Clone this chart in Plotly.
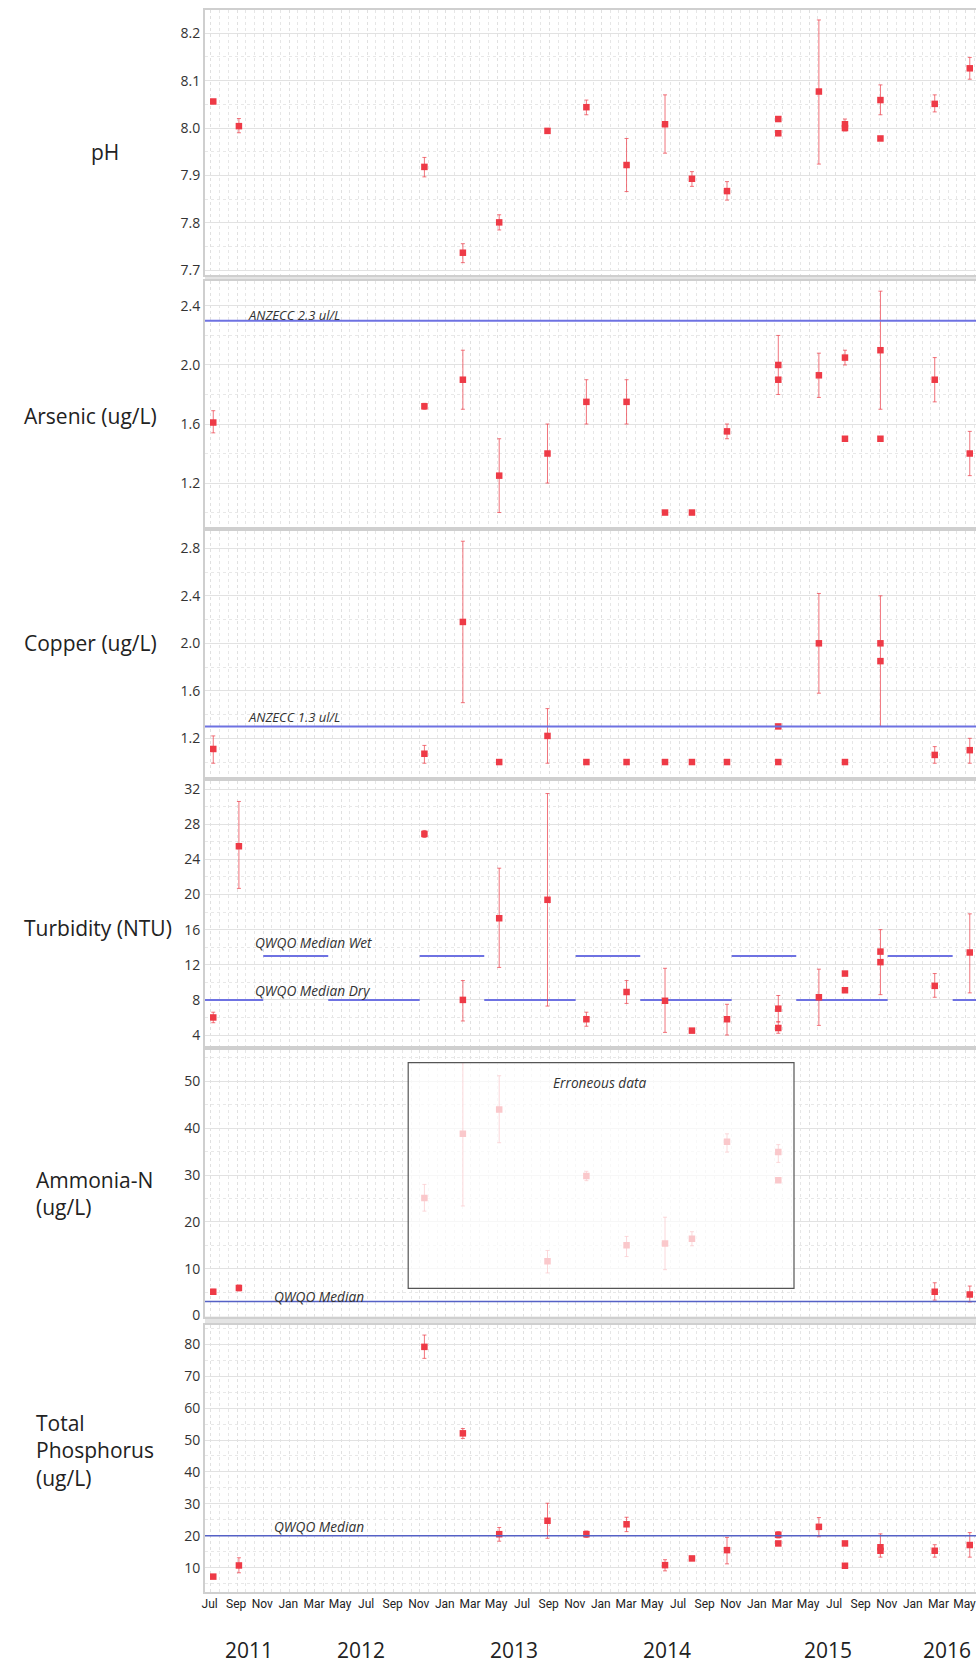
import plotly.graph_objects as go
from datetime import datetime

N = None

# ---------------- data ----------------
dates = ["2011-07-07", "2011-09-05", "2012-11-12", "2013-02-10", "2013-05-06",
         "2013-08-27", "2013-11-26", "2014-02-28", "2014-05-29", "2014-07-31",
         "2014-10-21", "2015-02-18", "2015-05-24", "2015-07-24", "2015-10-15",
         "2016-02-19", "2016-05-11"]

ph_val = [8.056, 8.004, 7.918, 7.737, 7.801, 7.994, 8.044, 7.922, 8.008, 7.893, 7.867, 8.019, 8.077, 8.008, 8.059, 8.051, 8.126]
ph_hi = [8.060, 8.020, 7.938, 7.756, 7.817, 7.998, 8.059, 7.978, 8.070, 7.908, 7.887, 8.024, 8.228, 8.019, 8.091, 8.070, 8.149]
ph_lo = [8.052, 7.990, 7.897, 7.716, 7.785, 7.990, 8.028, 7.866, 7.947, 7.877, 7.848, 8.014, 7.924, 7.997, 8.028, 8.034, 8.103]
ph_val2 = [N] * 11 + [7.989, N, 8.000, 7.978, N, N]
ph_hi2 = [N] * 11 + [7.994, N, 8.004, 7.982, N, N]
ph_lo2 = [N] * 11 + [7.984, N, 7.994, 7.974, N, N]

as_val = [1.61, N, 1.72, 1.90, 1.25, 1.40, 1.75, 1.75, 1.00, 1.00, 1.55, 2.00, 1.93, 2.05, 2.10, 1.90, 1.40]
as_hi = [1.69, N, 1.74, 2.10, 1.50, 1.60, 1.90, 1.90, 1.00, 1.00, 1.60, 2.20, 2.08, 2.10, 2.50, 2.05, 1.55]
as_lo = [1.54, N, 1.70, 1.70, 1.00, 1.20, 1.60, 1.60, 1.00, 1.00, 1.50, 1.80, 1.78, 2.00, 1.70, 1.75, 1.25]
as_val2 = [N] * 11 + [1.90, N, 1.50, 1.50, N, N]

cu_val = [1.11, N, 1.07, 2.18, 1.00, 1.22, 1.00, 1.00, 1.00, 1.00, 1.00, 1.00, 2.00, 1.00, 2.00, 1.06, 1.10]
cu_hi = [1.22, N, 1.14, 2.86, 1.00, 1.45, 1.00, 1.00, 1.00, 1.00, 1.00, 1.00, 2.42, 1.00, 2.40, 1.13, 1.20]
cu_lo = [0.99, N, 0.99, 1.50, 1.00, 0.99, 1.00, 1.00, 1.00, 1.00, 1.00, 1.00, 1.58, 1.00, 1.30, 0.99, 0.99]
cu_val2 = [N] * 11 + [1.30, N, N, 1.85, N, N]

tu_val = [6.0, 25.5, 26.9, 8.0, 17.3, 19.4, 5.8, 8.9, 7.9, 4.5, 5.8, 7.0, 8.3, 11.0, 13.5, 9.6, 13.4]
tu_hi = [6.6, 30.6, 27.3, 10.2, 23.0, 31.5, 6.6, 10.2, 11.6, 4.7, 7.5, 8.5, 11.5, 11.2, 16.0, 11.0, 17.8]
tu_lo = [5.4, 20.7, 26.5, 5.6, 11.7, 7.3, 5.0, 7.6, 4.3, 4.3, 4.0, 5.5, 5.1, 10.8, 8.6, 8.3, 8.8]
tu_val2 = [N] * 11 + [4.8, N, 9.1, 12.3, N, N]
tu_hi2 = [N] * 11 + [5.5, N, 9.3, 12.5, N, N]
tu_lo2 = [N] * 11 + [4.2, N, 8.9, 12.1, N, N]

nh_val = [5.1, 5.9, 25.1, 38.8, 44.0, 11.6, 29.8, 15.0, 15.4, 16.4, 37.1, 34.9, N, N, N, 5.1, 4.5]
nh_hi = [5.6, 6.5, 28.0, 54.0, 51.2, 13.9, 30.8, 16.9, 21.0, 17.9, 38.8, 36.5, N, N, N, 7.0, 6.3]
nh_lo = [4.6, 5.3, 22.3, 23.4, 36.9, 9.1, 28.8, 12.6, 9.8, 14.9, 34.9, 32.7, N, N, N, 3.3, 2.9]
nh_val2 = [N] * 11 + [28.9, N, N, N, N, N]

tp_val = [7.2, 10.7, 79.2, 52.1, 20.5, 24.7, 20.5, 23.6, 10.8, 12.9, 15.5, 20.3, 22.8, 17.6, 16.4, 15.3, 17.1]
tp_hi = [7.7, 13.1, 82.9, 53.6, 22.6, 30.2, 21.5, 25.8, 12.5, 13.5, 19.5, 21.3, 25.7, 18.2, 20.6, 17.2, 21.0]
tp_lo = [6.7, 8.4, 75.6, 50.5, 18.3, 19.2, 19.5, 21.3, 9.0, 12.3, 11.2, 19.3, 19.7, 17.0, 13.3, 13.3, 13.3]
tp_val2 = [N] * 11 + [17.6, N, 10.6, 15.3, N, N]

anzecc_as = 2.3
anzecc_cu = 1.3
qwqo_wet = 13
qwqo_dry = 8
qwqo_nh = 3
qwqo_tp = 20

wet_seasons = [("2011-11-01", "2012-04-01"), ("2012-11-01", "2013-04-01"), ("2013-11-01", "2014-04-01"),
               ("2014-11-01", "2015-04-01"), ("2015-11-01", "2016-04-01")]
dry_seasons = [("2011-04-01", "2011-11-01"), ("2012-04-01", "2012-11-01"), ("2013-04-01", "2013-11-01"),
               ("2014-04-01", "2014-11-01"), ("2015-04-01", "2015-11-01"), ("2016-04-01", "2016-11-01")]

panel_titles = ["pH", "Arsenic (ug/L)", "Copper (ug/L)", "Turbidity (NTU)", "Ammonia-N<br>(ug/L)",
                "Total<br>Phosphorus<br>(ug/L)"]
year_labels = ["2011", "2012", "2013", "2014", "2015", "2016"]

# ---------------- layout geometry ----------------
W, H = 976, 1663
PLOT_L = 205
panels_px = [(10, 275), (281, 527), (531, 777), (781, 1046), (1050, 1316.5), (1325, 1592)]
y_ranges = [[7.690, 8.249], [0.902, 2.569], [0.874, 2.946], [2.75, 32.93], [-0.2, 56.7], [2.38, 86.05]]
y_dticks = [0.1, 0.4, 0.4, 4, 10, 10]
y_formats = [".1f", ".1f", ".1f", "d", "d", "d"]
X_RANGE = ["2011-06-17 16:00", "2016-05-25 14:00"]

RED = "#ee3a46"
ERR = "rgba(236,70,80,0.75)"
BLUE = "#6e72e2"
BLUE2 = "#5561c6"


def py(px):
    return 1 - px / H


def errs(v, hi, lo):
    up, dn = [], []
    for a, h, l in zip(v, hi, lo):
        up.append(h - a if (a is not None and h is not None) else 0)
        dn.append(a - l if (a is not None and l is not None) else 0)
    return up, dn


# minor vertical grid: thirds of each 2-month interval
majors = []
d = datetime(2011, 5, 1)
while d < datetime(2016, 9, 1):
    majors.append(d)
    m = d.month + 2
    y = d.year + (m - 1) // 12
    m = (m - 1) % 12 + 1
    d = datetime(y, m, 1)
minor_vals = []
for a, b in zip(majors[:-1], majors[1:]):
    step = (b - a) / 3
    minor_vals += [(a + step).strftime("%Y-%m-%d %H:%M"), (a + 2 * step).strftime("%Y-%m-%d %H:%M")]

fig = go.Figure()

series = [
    (ph_val, ph_hi, ph_lo, ph_val2, ph_hi2, ph_lo2),
    (as_val, as_hi, as_lo, as_val2, as_val2, as_val2),
    (cu_val, cu_hi, cu_lo, cu_val2, cu_val2, cu_val2),
    (tu_val, tu_hi, tu_lo, tu_val2, tu_hi2, tu_lo2),
    (nh_val, nh_hi, nh_lo, nh_val2, nh_val2, nh_val2),
    (tp_val, tp_hi, tp_lo, tp_val2, tp_val2, tp_val2),
]

# turbidity season lines (drawn under markers)
for segs, val in [(wet_seasons, qwqo_wet), (dry_seasons, qwqo_dry)]:
    xs, ys = [], []
    for a, b in segs:
        xs += [a, b, None]
        ys += [val, val, None]
    fig.add_trace(go.Scatter(x=xs, y=ys, mode="lines", line=dict(color=BLUE, width=2),
                             xaxis="x4", yaxis="y4", hoverinfo="skip"))

for i, (v, hi, lo, v2, hi2, lo2) in enumerate(series, start=1):
    xa = "x" if i == 1 else f"x{i}"
    ya = "y" if i == 1 else f"y{i}"
    up, dn = errs(v, hi, lo)
    fig.add_trace(go.Scatter(
        x=dates, y=v, mode="markers", xaxis=xa, yaxis=ya,
        marker=dict(symbol="square", size=6.5, color=RED),
        error_y=dict(type="data", symmetric=False, array=up, arrayminus=dn,
                     color=ERR, thickness=1, width=2)))
    up2, dn2 = errs(v2, hi2, lo2)
    fig.add_trace(go.Scatter(
        x=dates, y=v2, mode="markers", xaxis=xa, yaxis=ya,
        marker=dict(symbol="square", size=6.5, color=RED),
        error_y=dict(type="data", symmetric=False, array=up2, arrayminus=dn2,
                     color=ERR, thickness=1, width=2)))

layout = dict(width=W, height=H, margin=dict(l=0, r=0, t=0, b=0),
              paper_bgcolor="white", plot_bgcolor="white", showlegend=False,
              font=dict(family="Open Sans, sans-serif", color="#333"))

for i in range(1, 7):
    top, bot = panels_px[i - 1]
    xk = "xaxis" if i == 1 else f"xaxis{i}"
    yk = "yaxis" if i == 1 else f"yaxis{i}"
    layout[xk] = dict(
        domain=[PLOT_L / W, 1], range=X_RANGE, type="date",
        anchor="y" if i == 1 else f"y{i}",
        showticklabels=(i == 6), dtick="M2", tick0="2011-07-01", tickformat="%b",
        tickfont=dict(family="Liberation Sans Narrow, Roboto, sans-serif", size=12, color="#222"),
        ticklabeloverflow="allow", ticklabelshift=-1,
        showgrid=True, gridcolor="#e0e0e0", griddash="dot", gridwidth=1,
        minor=dict(tickmode="array", tickvals=minor_vals, showgrid=True,
                   gridcolor="#e6e6e6", griddash="dot", gridwidth=1),
        showline=True, mirror=True, linecolor="#cfcfcf", linewidth=2,
        zeroline=False, ticks="", automargin=False, fixedrange=True)
    layout[yk] = dict(
        domain=[py(bot), py(top)], range=y_ranges[i - 1],
        anchor="x" if i == 1 else f"x{i}",
        dtick=y_dticks[i - 1], tick0=0, tickformat=y_formats[i - 1],
        tickfont=dict(family="Open Sans, sans-serif", size=14, color="#333"),
        showgrid=True, gridcolor="#e2e2e2", gridwidth=1,
        minor=dict(dtick=y_dticks[i - 1] / 2, showgrid=True, gridcolor="#e8e8e8", griddash="dot"),
        showline=True, mirror=False, linecolor="#cfcfcf", linewidth=2,
        zeroline=False, ticks="", automargin=False, fixedrange=True)

shapes = []
# gray separators between panels
for (t1, b1), (t2, b2) in zip(panels_px[:-1], panels_px[1:]):
    shapes.append(dict(type="rect", xref="paper", yref="paper", x0=PLOT_L / W, x1=1,
                       y0=py(t2), y1=py(b1), fillcolor="#e4e4e4", line=dict(width=0), layer="below"))
# threshold lines
for ax, val, col, wd in [(2, anzecc_as, BLUE, 2), (3, anzecc_cu, BLUE, 2),
                         (5, qwqo_nh, BLUE2, 1.5), (6, qwqo_tp, BLUE2, 1.5)]:
    shapes.append(dict(type="line", xref=f"x{ax} domain", yref=f"y{ax}", x0=0, x1=1, y0=val, y1=val,
                       line=dict(color=col, width=wd), layer="above"))
# erroneous data box (semi-transparent veil)
shapes.append(dict(type="rect", xref="paper", yref="paper", x0=408.2 / W, x1=794 / W,
                   y0=py(1288.3), y1=py(1062.7), fillcolor="rgba(255,255,255,0.72)",
                   line=dict(color="#555", width=1.2), layer="above"))
layout["shapes"] = shapes

ann = []
title_pos = [(89, 152), (22, 416), (22, 643), (22, 928), (34, 1193), (34, 1450)]
for txt, (xp, yp) in zip(panel_titles, title_pos):
    ann.append(dict(text=txt, xref="paper", yref="paper", x=xp / W, y=py(yp), xanchor="left",
                    yanchor="middle", align="left", showarrow=False,
                    font=dict(family="Open Sans, sans-serif", size=21, color="#222")))
notes = [("ANZECC 2.3 ul/L", 246, 315, 13, "left"), ("ANZECC 1.3 ul/L", 246, 717, 13, "left"),
         ("QWQO Median Wet", 253, 942, 13.7, "left"), ("QWQO Median Dry", 253, 990, 13.7, "left"),
         ("Erroneous data", 599.5, 1082, 13.7, "center"), ("QWQO Median", 272, 1296, 13.7, "left"),
         ("QWQO Median", 272, 1526, 13.7, "left")]
for txt, xp, yp, fs, anc in notes:
    ann.append(dict(text=f"<i>{txt}</i>", xref="paper", yref="paper", x=xp / W, y=py(yp),
                    xanchor=anc, yanchor="middle", showarrow=False,
                    font=dict(family="Open Sans, sans-serif", size=fs, color="#333")))
year_x = [249, 361, 514, 667, 828, 947]
for txt, xp in zip(year_labels, year_x):
    ann.append(dict(text=txt, xref="paper", yref="paper", x=xp / W, y=py(1650), xanchor="center",
                    yanchor="middle", showarrow=False,
                    font=dict(family="Open Sans, sans-serif", size=21, color="#222")))
layout["annotations"] = ann

fig.update_layout(**layout)
fig.write_html("out.html", config={"displayModeBar": False},
               post_script="document.body.style.margin='0';document.body.style.overflow='hidden';")
